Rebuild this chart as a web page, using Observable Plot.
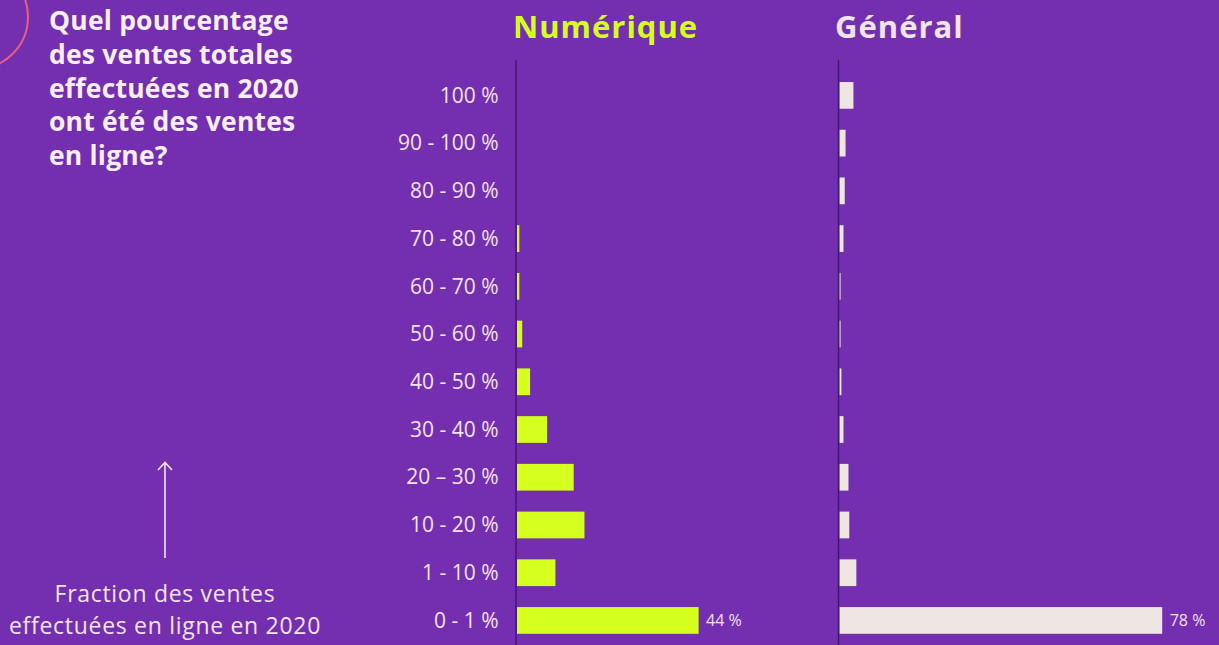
<!DOCTYPE html>
<html><head><meta charset="utf-8">
<script src="https://cdn.jsdelivr.net/npm/d3@7"></script>
<script src="https://cdn.jsdelivr.net/npm/@observablehq/plot@0.6"></script>
<style>
html,body{margin:0;padding:0;}
body{width:1219px;height:645px;overflow:hidden;background:#742eb0;position:relative;font-family:"Open Sans",sans-serif;}
.abs{position:absolute;}
#q{left:49px;top:4px;color:#f7eef4;font-weight:700;font-size:26.5px;line-height:33.8px;letter-spacing:0.2px;}
#foot{left:0;width:330px;top:577px;text-align:center;color:#f0e4ee;font-size:23px;line-height:32px;letter-spacing:0.7px;}
.ttl{top:6px;font-weight:700;font-size:31px;line-height:40px;letter-spacing:1px;}
#t1{left:513px;color:#d4ff1f;}
#t2{left:835px;color:#efe4e6;}
#pa{left:380px;top:0;width:551px;}
#pb{left:828px;top:0;width:426px;}
svg{max-width:none !important;}
</style></head>
<body>
<svg class="abs" style="left:0;top:0" width="340" height="645">
  <circle cx="-24" cy="17" r="52" fill="none" stroke="#e3607f" stroke-width="2"/>
  <line x1="165" y1="558" x2="165" y2="462" stroke="#f3eaf2" stroke-width="1.6"/>
  <polyline points="158,470 165,462.5 172,470" fill="none" stroke="#f3eaf2" stroke-width="1.6"/>
</svg>
<div id="q" class="abs">Quel pourcentage<br>des ventes totales<br>effectuées en 2020<br>ont été des ventes<br>en ligne?</div>
<div id="foot" class="abs">Fraction des ventes<br>effectuées en ligne en 2020</div>
<div id="t1" class="abs ttl">Numérique</div>
<div id="t2" class="abs ttl">Général</div>
<div id="pa" class="abs"></div>
<div id="pb" class="abs"></div>
<script>
const categories = ["100 %","90 - 100 %","80 - 90 %","70 - 80 %","60 - 70 %","50 - 60 %","40 - 50 %","30 - 40 %","20 – 30 %","10 - 20 %","1 - 10 %","0 - 1 %"];
const numerique = [0, 0, 0, 0.8, 0.8, 1.5, 3.4, 7.5, 13.9, 16.5, 9.5, 44];
const general = [3.6, 1.7, 1.5, 1.2, 0.5, 0.5, 0.7, 1.2, 2.4, 2.6, 4.3, 78];
const labelled = "0 - 1 %";

const dataN = categories.map((c,i)=>({cat:c, value:numerique[i]}));
const dataG = categories.map((c,i)=>({cat:c, value:general[i]}));

function panel(data, color, showAxis, marginLeft){
  return Plot.plot({
    width: marginLeft + 415,
    height: 645,
    marginLeft, marginRight: 0, marginTop: 60, marginBottom: 0,
    x: {domain: [0,100], axis: null},
    y: {domain: categories, paddingInner: 0.44, paddingOuter: 0.348, align: 0.663, round: false,
        axis: showAxis ? "left" : null, tickSize: 0, tickPadding: 18, label: null},
    style: {background: "transparent", color: "#f0e4ee", fontFamily: "Open Sans", fontSize: "21px", overflow: "visible", maxWidth: "none"},
    marks: [
      Plot.barX(data, {x: "value", y: "cat", fill: color, insetLeft: 1}),
      Plot.ruleX([0], {stroke: "#3f166f", strokeWidth: 1.4, dx: -0.5}),
      Plot.text(data.filter(d => d.cat === labelled), {x: "value", y: "cat", text: d => `${d.value} %`, dx: 7, textAnchor: "start", fill: "#efe3ea", fontSize: 16})
    ]
  });
}
document.getElementById("pa").append(panel(dataN, "#d4ff1f", true, 136));
document.getElementById("pb").append(panel(dataG, "#efe5e3", false, 10.5));
</script>
</body></html>
